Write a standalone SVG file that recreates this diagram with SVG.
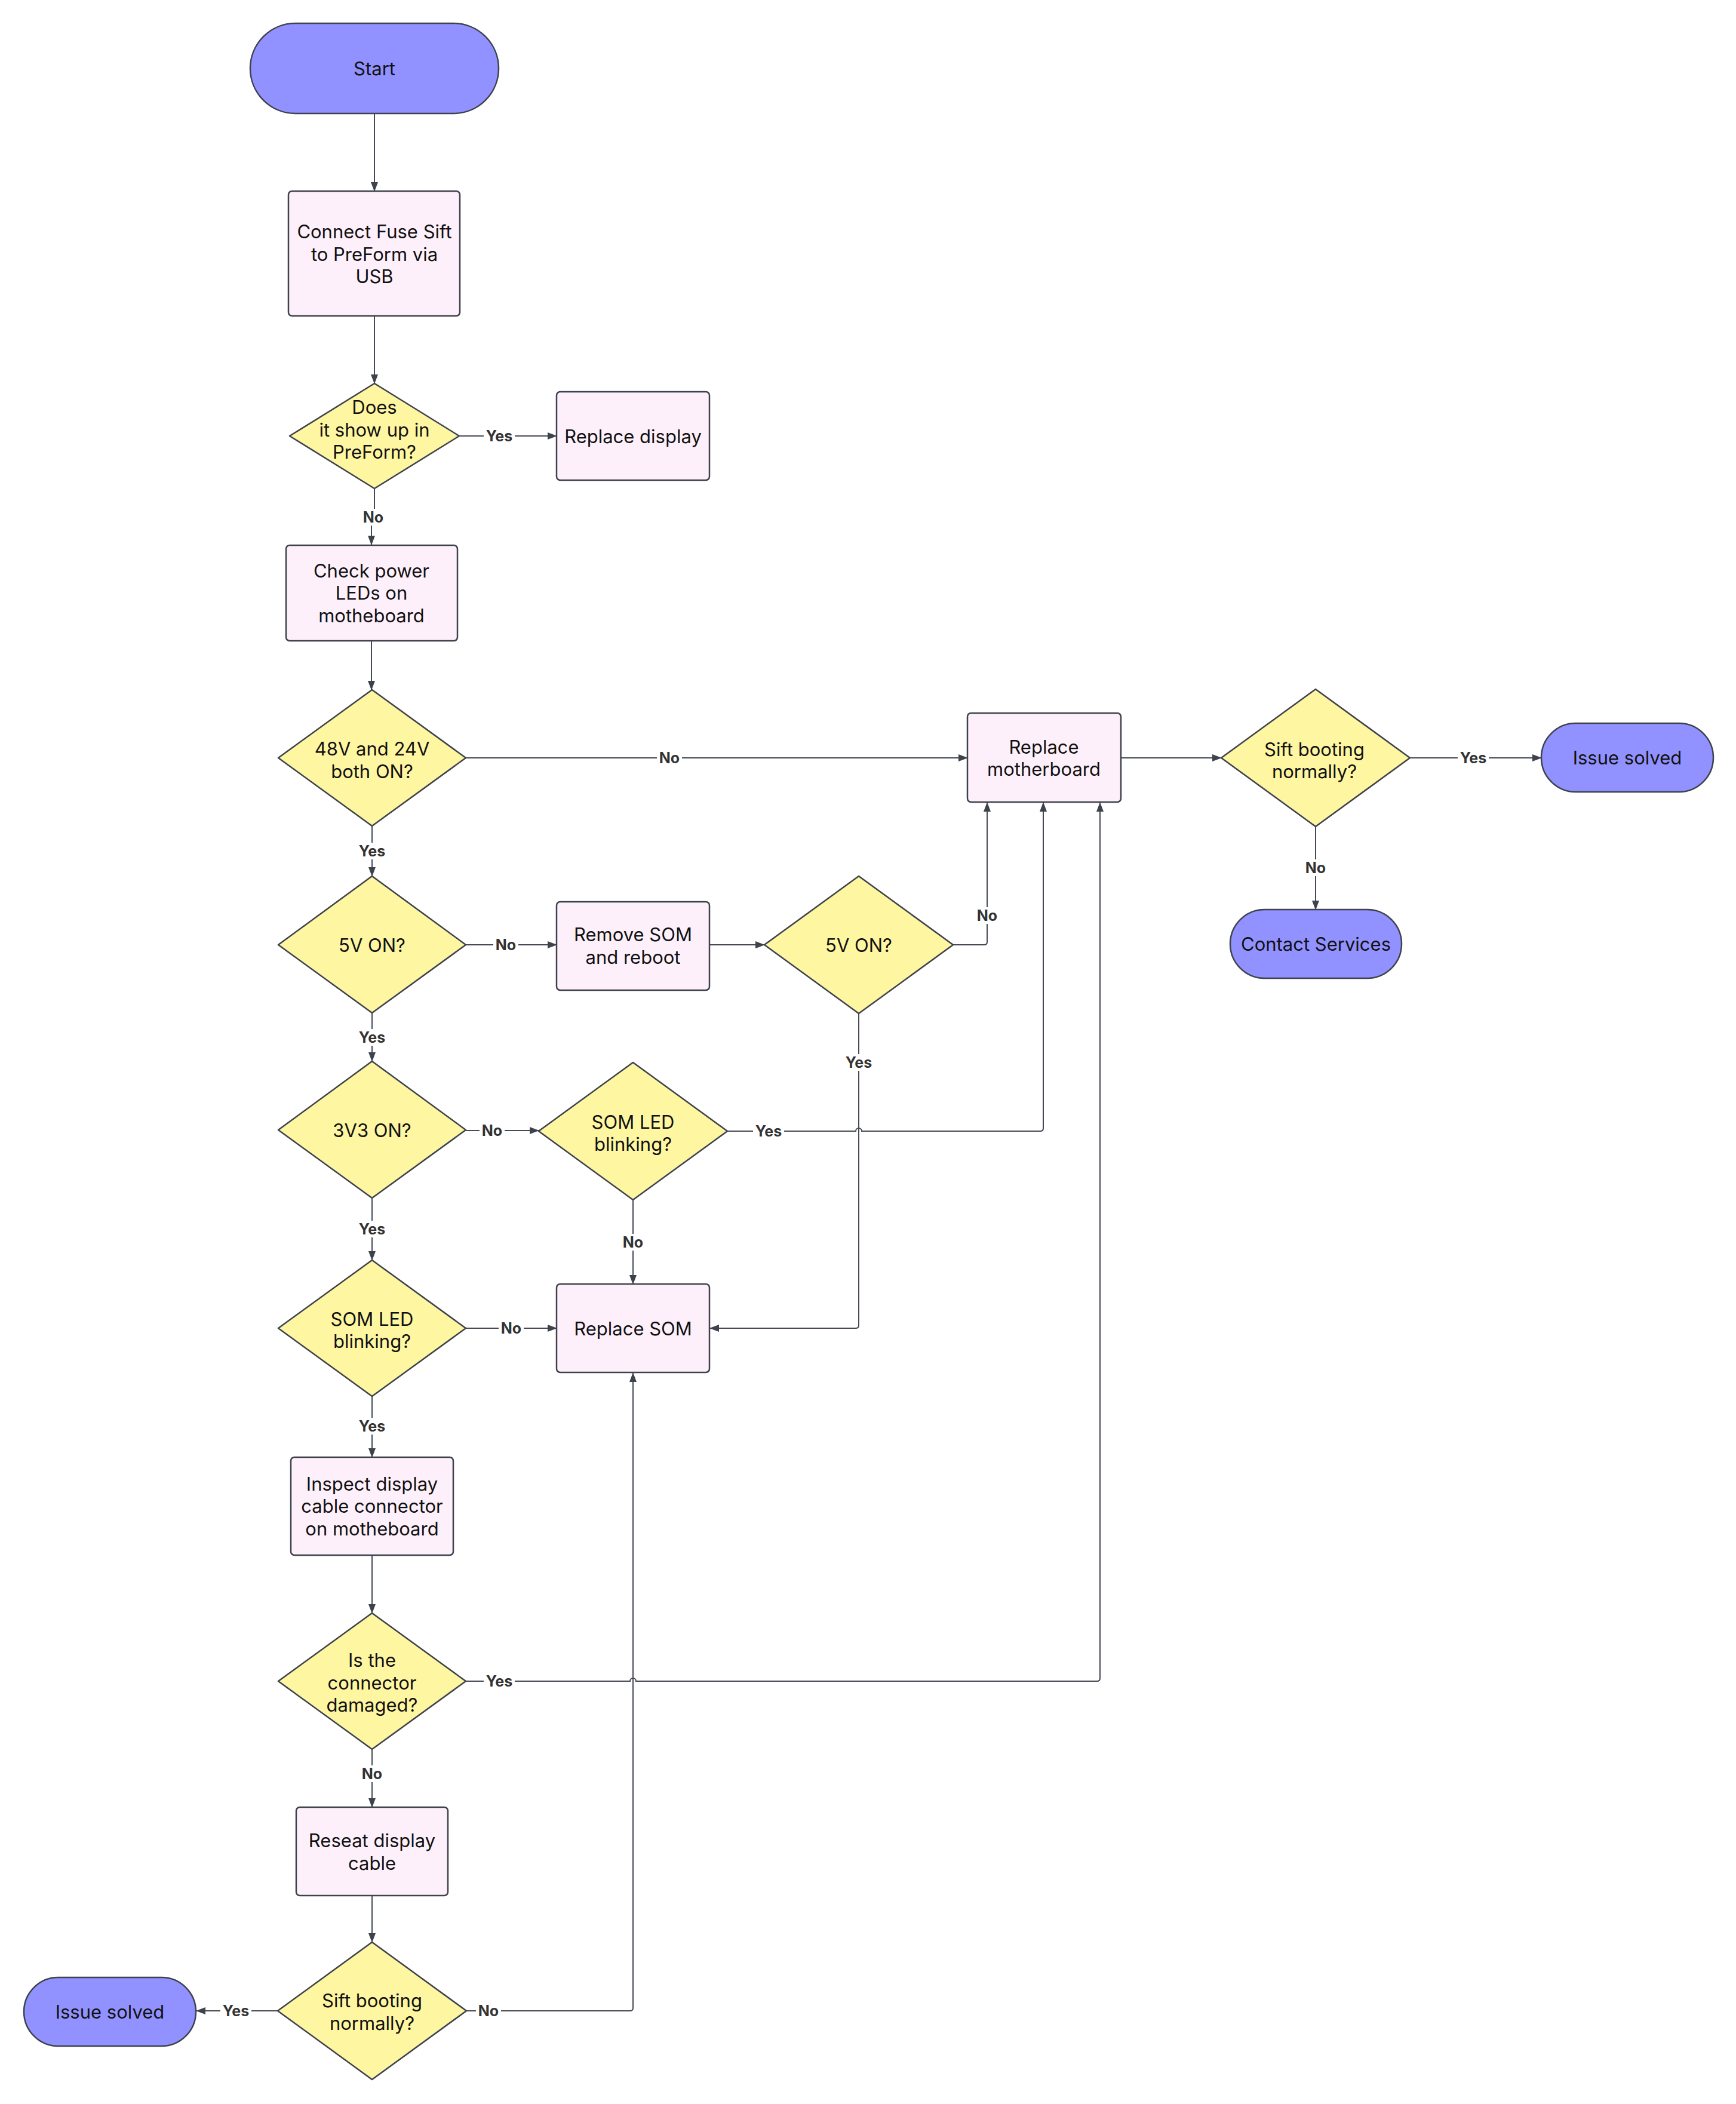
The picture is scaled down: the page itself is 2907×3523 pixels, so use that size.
<svg xmlns="http://www.w3.org/2000/svg" width="2907" height="3523" viewBox="0 0 2907 3523">
<style>
.term{fill:#9191ff;stroke:#3d424c;stroke-width:2.5}
.box{fill:#fdf0fb;stroke:#3d424c;stroke-width:2.5}
.dec{fill:#fef6a1;stroke:#3d424c;stroke-width:2.5;stroke-linejoin:round}
.t{font-family:Inter,"Liberation Sans",sans-serif;font-size:31px;fill:#111;text-anchor:middle;dominant-baseline:central}
.e{fill:none;stroke:#454a54;stroke-width:2}
.lb{fill:#fff}
.lt{font-family:Inter,"Liberation Sans",sans-serif;font-size:25px;font-weight:bold;fill:#333;text-anchor:middle;dominant-baseline:central}
</style>
<defs>
<marker id="a" markerUnits="userSpaceOnUse" markerWidth="16" markerHeight="12" refX="15" refY="6" orient="auto">
<path d="M0,0 L16,6 L0,12 z" fill="#3d424c"/>
</marker>
</defs>
<rect width="2907" height="3523" fill="#fff"/>
<g id="connectors">
<path class="e" marker-end="url(#a)" d="M627,190 V320"/>
<path class="e" marker-end="url(#a)" d="M627,529 V642"/>
<path class="e" marker-end="url(#a)" d="M769,730 H932"/>
<path class="e" marker-end="url(#a)" d="M627,818 V862 L622,870 V912"/>
<path class="e" marker-end="url(#a)" d="M622,1073 V1155"/>
<path class="e" marker-end="url(#a)" d="M780,1269 H1620"/>
<path class="e" marker-end="url(#a)" d="M623,1383 V1467"/>
<path class="e" marker-end="url(#a)" d="M780,1582 H932"/>
<path class="e" marker-end="url(#a)" d="M1188,1582 H1280"/>
<path class="e" marker-end="url(#a)" d="M1596,1582 H1648 Q1653,1582 1653,1577 V1344"/>
<path class="e" marker-end="url(#a)" d="M1438,1697 V2219 Q1438,2224 1433,2224 H1189"/>
<path class="e" marker-end="url(#a)" d="M1877,1269 H2045"/>
<path class="e" marker-end="url(#a)" d="M2361,1269 H2581"/>
<path class="e" marker-end="url(#a)" d="M2203,1384 V1523"/>
<path class="e" marker-end="url(#a)" d="M623,1695 V1777"/>
<path class="e" marker-end="url(#a)" d="M780,1893 H902"/>
<path class="e" marker-end="url(#a)" d="M1218,1894 H1433 A5,5 0 0 1 1443,1894 H1742 Q1747,1894 1747,1889 V1344"/>
<path class="e" marker-end="url(#a)" d="M1060,2009 V2150"/>
<path class="e" marker-end="url(#a)" d="M623,2006 V2110"/>
<path class="e" marker-end="url(#a)" d="M780,2224 H932"/>
<path class="e" marker-end="url(#a)" d="M623,2338 V2440"/>
<path class="e" marker-end="url(#a)" d="M623,2604 V2701"/>
<path class="e" marker-end="url(#a)" d="M780,2815 H1055 A5,5 0 0 1 1065,2815 H1837 Q1842,2815 1842,2810 V1344"/>
<path class="e" marker-end="url(#a)" d="M623,2929 V3026"/>
<path class="e" marker-end="url(#a)" d="M623,3174 V3252"/>
<path class="e" marker-end="url(#a)" d="M465,3367 H329"/>
<path class="e" marker-end="url(#a)" d="M781,3367 H1055 Q1060,3367 1060,3362 V2299"/>
<g id="labels">
<rect class="lb" x="810" y="716" width="52" height="28"/><text class="lt" x="836" y="730">Yes</text>
<rect class="lb" x="604" y="852" width="42" height="28"/><text class="lt" x="625" y="866">No</text>
<rect class="lb" x="1100" y="1255" width="42" height="28"/><text class="lt" x="1121" y="1269">No</text>
<rect class="lb" x="597" y="1411" width="52" height="28"/><text class="lt" x="623" y="1425">Yes</text>
<rect class="lb" x="826" y="1568" width="42" height="28"/><text class="lt" x="847" y="1582">No</text>
<rect class="lb" x="1632" y="1519" width="42" height="28"/><text class="lt" x="1653" y="1533">No</text>
<rect class="lb" x="1412" y="1765" width="52" height="28"/><text class="lt" x="1438" y="1779">Yes</text>
<rect class="lb" x="2441" y="1255" width="52" height="28"/><text class="lt" x="2467" y="1269">Yes</text>
<rect class="lb" x="2182" y="1439" width="42" height="28"/><text class="lt" x="2203" y="1453">No</text>
<rect class="lb" x="597" y="1723" width="52" height="28"/><text class="lt" x="623" y="1737">Yes</text>
<rect class="lb" x="803" y="1879" width="42" height="28"/><text class="lt" x="824" y="1893">No</text>
<rect class="lb" x="1261" y="1880" width="52" height="28"/><text class="lt" x="1287" y="1894">Yes</text>
<rect class="lb" x="1039" y="2066" width="42" height="28"/><text class="lt" x="1060" y="2080">No</text>
<rect class="lb" x="597" y="2044" width="52" height="28"/><text class="lt" x="623" y="2058">Yes</text>
<rect class="lb" x="835" y="2210" width="42" height="28"/><text class="lt" x="856" y="2224">No</text>
<rect class="lb" x="597" y="2374" width="52" height="28"/><text class="lt" x="623" y="2388">Yes</text>
<rect class="lb" x="810" y="2801" width="52" height="28"/><text class="lt" x="836" y="2815">Yes</text>
<rect class="lb" x="602" y="2956" width="42" height="28"/><text class="lt" x="623" y="2970">No</text>
<rect class="lb" x="369" y="3353" width="52" height="28"/><text class="lt" x="395" y="3367">Yes</text>
<rect class="lb" x="797" y="3353" width="42" height="28"/><text class="lt" x="818" y="3367">No</text>
</g>
</g>
<g id="start"><rect class="term" x="419" y="39" width="416" height="151" rx="75.5"/><text class="t" x="627" y="114.5">Start</text></g>
<g id="connect"><rect class="box" x="483" y="320" width="287" height="209" rx="6"/><text class="t" x="627"><tspan x="627" y="387">Connect Fuse Sift</tspan><tspan x="627" y="425">to PreForm via</tspan><tspan x="627" y="462">USB</tspan></text></g>
<g id="shows-up"><path class="dec" d="M627,642 L769,730 L627,818 L485,730 Z"/><text class="t"><tspan x="627" y="681">Does</tspan><tspan x="627" y="719">it show up in</tspan><tspan x="627" y="756">PreForm?</tspan></text></g>
<g id="replace-display"><rect class="box" x="932" y="656" width="256" height="148" rx="6"/><text class="t" x="1060" y="730">Replace display</text></g>
<g id="check-power"><rect class="box" x="479" y="913" width="287" height="160" rx="6"/><text class="t"><tspan x="622" y="955">Check power</tspan><tspan x="622" y="992">LEDs on</tspan><tspan x="622" y="1030">motheboard</tspan></text></g>
<g id="v48"><path class="dec" d="M623,1155 L780,1269 L623,1383 L466,1269 Z"/><text class="t"><tspan x="623" y="1253">48V and 24V</tspan><tspan x="623" y="1291">both ON?</tspan></text></g>
<g id="v5a"><path class="dec" d="M623,1467 L780,1582 L623,1696 L466,1582 Z"/><text class="t" x="623" y="1582">5V ON?</text></g>
<g id="remove-som"><rect class="box" x="932" y="1510" width="256" height="148" rx="6"/><text class="t"><tspan x="1060" y="1564">Remove SOM</tspan><tspan x="1060" y="1602">and reboot</tspan></text></g>
<g id="v5b"><path class="dec" d="M1438,1467 L1596,1582 L1438,1697 L1280,1582 Z"/><text class="t" x="1438" y="1582">5V ON?</text></g>
<g id="replace-mb"><rect class="box" x="1620" y="1194" width="257" height="149" rx="6"/><text class="t"><tspan x="1748" y="1250">Replace</tspan><tspan x="1748" y="1287">motherboard</tspan></text></g>
<g id="sift-a"><path class="dec" d="M2203,1154 L2361,1269 L2203,1384 L2045,1269 Z"/><text class="t"><tspan x="2201" y="1254">Sift booting</tspan><tspan x="2201" y="1291">normally?</tspan></text></g>
<g id="solved-a"><rect class="term" x="2581" y="1211" width="288" height="115" rx="57.5"/><text class="t" x="2725" y="1268.5">Issue solved</text></g>
<g id="contact"><rect class="term" x="2060" y="1523" width="287" height="115" rx="57.5"/><text class="t" x="2203.5" y="1580.5">Contact Services</text></g>
<g id="v33"><path class="dec" d="M623,1777 L780,1892 L623,2006 L466,1892 Z"/><text class="t" x="623" y="1892">3V3 ON?</text></g>
<g id="som-led-a"><path class="dec" d="M1060,1779 L1218,1894 L1060,2009 L902,1894 Z"/><text class="t"><tspan x="1060" y="1878">SOM LED</tspan><tspan x="1060" y="1915">blinking?</tspan></text></g>
<g id="som-led-b"><path class="dec" d="M623,2110 L780,2224 L623,2338 L466,2224 Z"/><text class="t"><tspan x="623" y="2208">SOM LED</tspan><tspan x="623" y="2245">blinking?</tspan></text></g>
<g id="replace-som"><rect class="box" x="932" y="2150" width="256" height="148" rx="6"/><text class="t" x="1060" y="2224">Replace SOM</text></g>
<g id="inspect"><rect class="box" x="487" y="2440" width="272" height="164" rx="6"/><text class="t"><tspan x="623" y="2484">Inspect display</tspan><tspan x="623" y="2521">cable connector</tspan><tspan x="623" y="2559">on motheboard</tspan></text></g>
<g id="damaged"><path class="dec" d="M623,2701 L780,2815 L623,2929 L466,2815 Z"/><text class="t"><tspan x="623" y="2779">Is the</tspan><tspan x="623" y="2817">connector</tspan><tspan x="623" y="2854">damaged?</tspan></text></g>
<g id="reseat"><rect class="box" x="496" y="3026" width="254" height="148" rx="6"/><text class="t"><tspan x="623" y="3081">Reseat display</tspan><tspan x="623" y="3119">cable</tspan></text></g>
<g id="sift-b"><path class="dec" d="M623,3252 L781,3367 L623,3482 L465,3367 Z"/><text class="t"><tspan x="623" y="3349">Sift booting</tspan><tspan x="623" y="3387">normally?</tspan></text></g>
<g id="solved-b"><rect class="term" x="40" y="3311" width="288" height="115" rx="57.5"/><text class="t" x="184" y="3368.5">Issue solved</text></g>
</svg>
